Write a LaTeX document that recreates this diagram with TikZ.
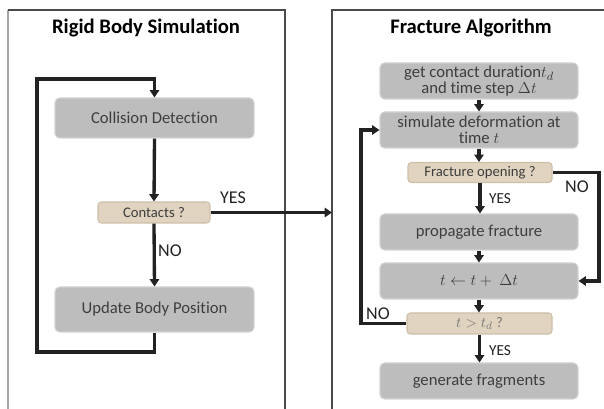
\documentclass[tikz,border=0pt]{standalone}
\usepackage{fontspec}
\setmainfont[Ligatures=NoCommon]{Carlito}
\usetikzlibrary{arrows.meta}
\definecolor{boxfill}{HTML}{BDBDBD}
\definecolor{boxline}{HTML}{D2D2D2}
\definecolor{tanfill}{HTML}{E0D3BF}
\definecolor{tanline}{HTML}{CDBFA8}
\definecolor{boxtext}{HTML}{3E3E3E}
\definecolor{arrcol}{HTML}{222222}
\definecolor{framecol}{HTML}{4A4A4A}
\tikzset{
  bx/.style n args={2}{minimum width=#1*0.75pt, minimum height=#2*0.75pt},
  graybox/.style={rectangle, rounded corners=3.5pt, fill=boxfill, draw=boxline, line width=0.8pt, inner sep=0pt, text=boxtext, font=\fontsize{12.5}{13}\selectfont, align=center},
  tanbox/.style={rectangle, rounded corners=2.5pt, fill=tanfill, draw=tanline, line width=0.8pt, inner sep=0pt, text=boxtext, font=\fontsize{11}{12}\selectfont, align=center},
  arr/.style={draw=arrcol, line width=2.5pt, -{Triangle[length=5.5pt,width=7pt]}},
  frame/.style={draw=framecol, line width=1pt},
  ttl/.style={font=\fontsize{15.5}{17}\selectfont\bfseries, text=black},
  lbl/.style={font=\fontsize{13.5}{14}\selectfont, text=arrcol, inner sep=0pt},
  lbls/.style={font=\fontsize{11.5}{12}\selectfont, text=arrcol, inner sep=0pt}
}
\begin{document}
\begin{tikzpicture}[x=0.75pt,y=-0.75pt]
\useasboundingbox (0,0) rectangle (604,409);
% panels
\draw[frame, draw=gray!70] (8,412) -- (8,10);
\draw[frame] (8,10) -- (285,10) -- (285,412);
\draw[frame] (332,412) -- (332,10) -- (606,10);
\node[ttl] (t1) at (146,28) {Rigid Body Simulation};
\node[ttl] (t2) at (471,28) {Fracture Algorithm};
% left nodes
\node[graybox, bx={199}{40}] (coll) at (154.5,118) {Collision Detection};
\node[tanbox, bx={112}{21}] (cont) at (154,212.5) {Contacts ?};
\node[graybox, bx={199}{45}] (upd) at (154.5,309.5) {Update Body Position};
% right nodes
\node[graybox, bx={198}{36}] (b1) at (479,81) {get contact duration$t_d$\\[-1pt]and time step $\Delta t$};
\node[graybox, bx={198}{36}] (b2) at (479,130) {simulate deformation at\\[-1pt]time $t$};
\node[tanbox, bx={144}{20}] (fo) at (480,172.5) {Fracture opening ?};
\node[graybox, bx={198}{36}] (prop) at (479,232) {propagate fracture};
\node[graybox, bx={198}{36}] (tt) at (479,281) {$t \leftarrow t + \ \Delta t$};
\node[tanbox, bx={145}{21}, text=boxtext!70] (td) at (479.5,323.5) {$t > t_d$ ?};
\node[graybox, bx={198}{36}] (gen) at (479,381) {generate fragments};
% left connectors
\coordinate (c1) at (37,352);
\coordinate (c2) at (37,79);
\draw[arr] (upd.south) |- (c1) -- (c2) -| (coll.north);
\draw[arr] (coll.south) -- (cont.north);
\draw[arr] (cont.south) -- (upd.north);
\coordinate (rp) at (332,212.5);
\draw[arr] (cont.east) -- (rp);
\node[lbl] (yes1) at (233,198) {YES};
\node[lbl] (no1) at (170,251) {NO};
% right connectors
\draw[arr] (b1.south) -- (b2.north);
\draw[arr] (b2.south) -- (b2.south |- fo.north);
\draw[arr] (fo.south) -- (fo.south |- prop.north);
\draw[arr] (prop.south) -- (tt.north);
\draw[arr] (tt.south) -- (tt.south |- td.north);
\draw[arr] (td.south) -- (td.south |- gen.north);
\coordinate (r1) at (599,172.5);
\draw[arr] (fo.east) -- (r1) |- (tt.east);
\coordinate (r2) at (361,323.5);
\draw[arr] (td.west) -- (r2) |- (b2.west);
\node[lbls] (yes2) at (500,199) {YES};
\node[lbls] (yes3) at (500,351) {YES};
\node[lbl] (no2) at (577,187) {NO};
\node[lbl] (no3) at (378,314) {NO};
\end{tikzpicture}
\end{document}
